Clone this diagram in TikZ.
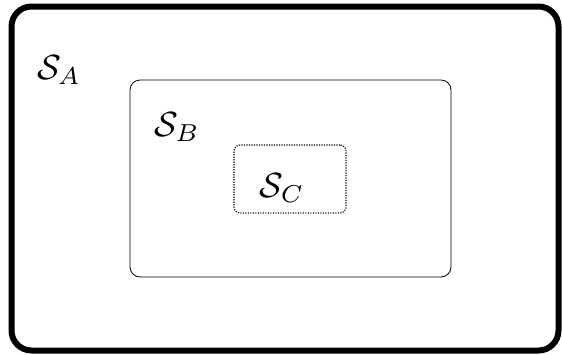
\documentclass[tikz,border=0pt]{standalone}
\usepackage{tikz}
\usetikzlibrary{positioning}

\newcommand{\setname}[1]{\scalebox{3.5}{$\mathcal{S}_{#1}$}}

\begin{document}
\begin{tikzpicture}[
  x=1pt, y=-1pt,
  setbox/.style={rectangle, draw=black, inner sep=0pt},
  setlabel/.style={inner sep=0pt}
]
\useasboundingbox (0,0) rectangle (562,354);
\node[setbox, line width=6pt, rounded corners=20pt,
      minimum width=547pt, minimum height=344pt] (setA) at (285,178.5) {};
\node[setbox, line width=0.8pt, rounded corners=10pt,
      minimum width=321pt, minimum height=197pt] (setB) at (290.5,178.5) {};
\node[setbox, line width=1.1pt, dash pattern=on 1.2pt off 1.3pt,
      rounded corners=6pt,
      minimum width=112pt, minimum height=68pt] (setC) at (290,179) {};

\node[setlabel] (labA) at (59,70) {\setname{A}};
\node[setlabel] (labB) at (177,127) {\setname{B}};
\node[setlabel] (labC) at (282,188) {\setname{C}};
\end{tikzpicture}
\end{document}
